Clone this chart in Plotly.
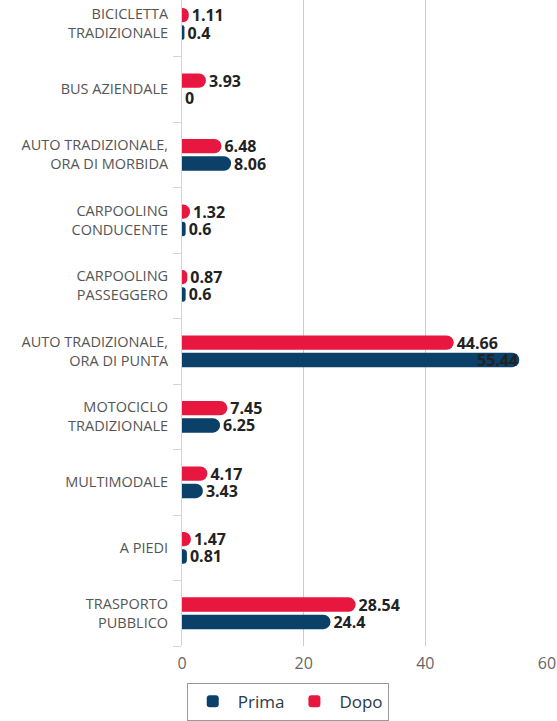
import plotly.graph_objects as go

categories = [
    "BICICLETTA<br>TRADIZIONALE",
    "BUS AZIENDALE",
    "AUTO TRADIZIONALE,<br>ORA DI MORBIDA",
    "CARPOOLING<br>CONDUCENTE",
    "CARPOOLING<br>PASSEGGERO",
    "AUTO TRADIZIONALE,<br>ORA DI PUNTA",
    "MOTOCICLO<br>TRADIZIONALE",
    "MULTIMODALE",
    "A PIEDI",
    "TRASPORTO<br>PUBBLICO",
]
prima = [0.4, 0, 8.06, 0.6, 0.6, 55.44, 6.25, 3.43, 0.81, 24.4]
dopo = [1.11, 3.93, 6.48, 1.32, 0.87, 44.66, 7.45, 4.17, 1.47, 28.54]

# bottom-to-top order so first category sits at the top
cats_r = categories[::-1]
prima_r = prima[::-1]
dopo_r = dopo[::-1]

X_MAX = 60
FIT_LIMIT = 50  # labels of longer bars sit over the bar end instead of after it

label_font = dict(family="Open Sans, DejaVu Sans, sans-serif", size=16, color="#222222")

fig = go.Figure()
series = [("Prima", prima_r, "#0B4068", -9), ("Dopo", dopo_r, "#E8173F", 9)]
for name, vals, color, shift in series:
    fig.add_trace(go.Bar(
        name=name, y=cats_r, x=vals, orientation="h",
        marker=dict(color=color, line=dict(width=0)),
        text=[f"{v:g}" if v <= FIT_LIMIT else "" for v in vals],
        textposition="outside", textangle=0,
        textfont=label_font, constraintext="none", cliponaxis=False,
        texttemplate="<b>%{text}</b>",
    ))
    for cat, v in zip(cats_r, vals):
        if v > FIT_LIMIT:
            fig.add_annotation(
                x=v, y=cat, text=f"<b>{v:g}</b>", showarrow=False,
                xanchor="right", yanchor="middle", yshift=shift, xshift=1,
                font=label_font,
            )

fig.update_layout(
    width=557, height=721,
    margin=dict(l=182, r=10, t=0, b=68),
    paper_bgcolor="white", plot_bgcolor="white",
    barmode="group", bargap=0.47, bargroupgap=0.17,
    barcornerradius=7,
    font=dict(family="Open Sans, DejaVu Sans, sans-serif", color="#555555"),
    showlegend=True,
    legend=dict(
        orientation="h", x=0.013, xanchor="left", y=-0.057, yanchor="top",
        bordercolor="#999999", borderwidth=1, bgcolor="white",
        font=dict(size=17, color="#2b3a4a"), traceorder="normal",
        itemwidth=40,
    ),
    xaxis=dict(
        range=[0, X_MAX], tickvals=[0, 20, 40, 60], showgrid=True,
        gridcolor="#cccccc", gridwidth=1, zeroline=False,
        tickfont=dict(size=16, color="#666666"), showline=False, ticks="",
        ticklabelstandoff=6,
    ),
    yaxis=dict(
        type="category", categoryorder="array", categoryarray=cats_r,
        range=[-0.5, 9.364], showgrid=False, zeroline=False,
        showline=True, linecolor="#ccd6eb", linewidth=1,
        ticks="outside", tickson="boundaries", ticklen=8, tickcolor="#ccd6eb",
        tickfont=dict(size=14.5, color="#555555"), ticklabelstandoff=10,
    ),
)

fig.write_html("out.html")
